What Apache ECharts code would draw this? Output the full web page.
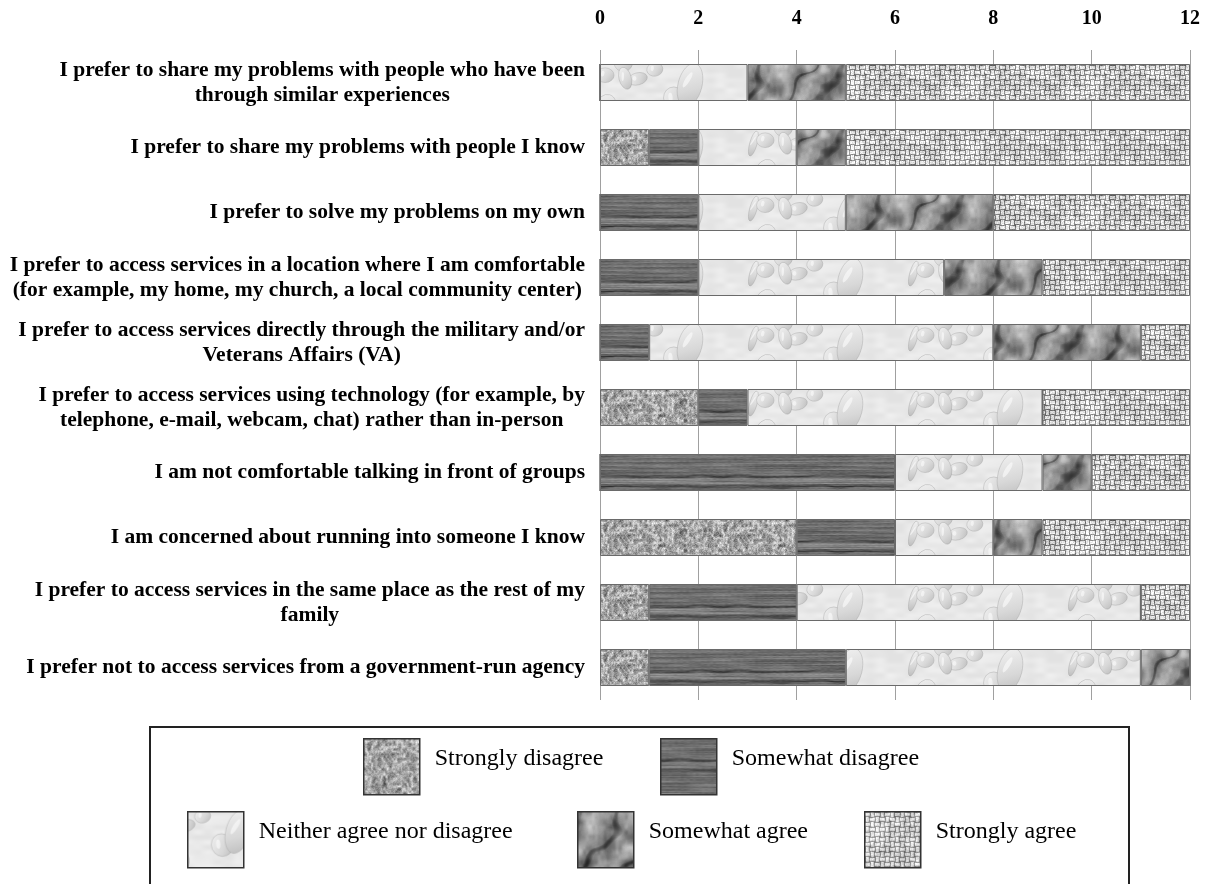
<!DOCTYPE html>
<html><head><meta charset="utf-8">
<script src="https://cdn.jsdelivr.net/npm/echarts@6/dist/echarts.min.js"></script>
<style>html,body{margin:0;padding:0;background:#fff}#c{width:1209px;height:884px}</style>
</head><body><div id="c"></div>
<script>
// ---------------- data ----------------
const categories = [
  'I prefer to share my problems with people who have been\nthrough similar experiences',
  'I prefer to share my problems with people I know',
  'I prefer to solve my problems on my own',
  'I prefer to access services in a location where I am comfortable\n(for example, my home, my church, a local community center)',
  'I prefer to access services directly through the military and/or\nVeterans Affairs (VA)',
  'I prefer to access services using technology (for example, by\ntelephone, e-mail, webcam, chat) rather than in-person',
  'I am not comfortable talking in front of groups',
  'I am concerned about running into someone I know',
  'I prefer to access services in the same place as the rest of my\nfamily',
  'I prefer not to access services from a government-run agency'
];
const seriesNames = ['Strongly disagree', 'Somewhat disagree', 'Neither agree nor disagree', 'Somewhat agree', 'Strongly agree'];
const stronglyDisagree = [0, 1, 0, 0, 0, 2, 0, 4, 1, 1];
const somewhatDisagree = [0, 1, 2, 2, 1, 1, 6, 2, 3, 4];
const neitherAgree     = [3, 2, 3, 5, 7, 6, 3, 2, 7, 6];
const somewhatAgree    = [2, 1, 3, 2, 3, 0, 1, 1, 0, 1];
const stronglyAgree    = [7, 7, 4, 3, 1, 3, 2, 3, 1, 0];
const xMin = 0, xMax = 12, xStep = 2;

// ---------------- textures (styling only, seeded) ----------------
function rng(seed){return function(){seed|=0;seed=seed+0x6D2B79F5|0;let t=Math.imul(seed^seed>>>15,1|seed);t=t+Math.imul(t^t>>>7,61|t)^t;return((t^t>>>14)>>>0)/4294967296;};}
function mk(w,h){const c=document.createElement('canvas');c.width=w;c.height=h;return c;}
function vnoise(w,h,gx,gy,seed){
  const r=rng(seed);const grid=new Float32Array(gx*gy);for(let i=0;i<gx*gy;i++)grid[i]=r();
  const out=new Float32Array(w*h);const cx=w/gx,cy=h/gy;
  for(let y=0;y<h;y++)for(let x=0;x<w;x++){
    const fx=x/cx,fy=y/cy,x0=Math.floor(fx),y0=Math.floor(fy);
    const tx=fx-x0,ty=fy-y0,sx=tx*tx*(3-2*tx),sy=ty*ty*(3-2*ty);
    const X0=x0%gx,X1=(x0+1)%gx,Y0=y0%gy,Y1=(y0+1)%gy;
    const a=grid[Y0*gx+X0],b=grid[Y0*gx+X1],c=grid[Y1*gx+X0],d=grid[Y1*gx+X1];
    const top=a+(b-a)*sx,bot=c+(d-c)*sx;out[y*w+x]=top+(bot-top)*sy;
  }
  return out;
}
function paint(w,h,fn){
  const c=mk(w,h),g=c.getContext('2d'),img=g.createImageData(w,h);
  for(let y=0;y<h;y++)for(let x=0;x<w;x++){let v=Math.max(0,Math.min(255,fn(x,y)));const i=(y*w+x)*4;img.data[i]=img.data[i+1]=img.data[i+2]=v;img.data[i+3]=255;}
  g.putImageData(img,0,0);return c;
}
const W=120,H=65;
function granite(){
  const a=vnoise(W,H,60,26,3),b=vnoise(W,H,24,13,5),c=vnoise(W,H,120,65,7);
  return paint(W,H,(x,y)=>{const i=y*W+x;const rid=1-Math.abs(2*b[i]-1);return 162+(a[i]-0.5)*80+(rid-0.6)*75+(c[i]-0.5)*45;});
}
function wood(){
  const w=240,a=vnoise(w,H,4,65,11),b=vnoise(w,H,12,13,13),c=vnoise(w,H,80,65,17);
  return paint(w,H,(x,y)=>{const i=y*w+x;const yr=(y+1)%H;let v=112+(a[i]-0.5)*40+(b[i]-0.5)*18+(c[i]-0.5)*14;
    const d1=Math.abs(yr-21.5+(b[i]-0.5)*3),d2=Math.abs(yr-32+(b[i]-0.5)*3);
    if(d1<2.2)v-=45*(1-d1/2.2);if(d2<2.2)v-=45*(1-d2/2.2);if(yr>=24&&yr<=29)v+=12;return v;});
}
function drops(){
  const w=160,c=mk(w,H),g=c.getContext('2d'),r=rng(23);
  const n=vnoise(w,H,16,13,29);
  const base=paint(w,H,(x,y)=>232+(n[y*w+x]-0.5)*14);g.drawImage(base,0,0);
  const list=[];
  for(let k=0;k<12;k++){list.push({x:r()*w,y:r()*H,rx:3+r()*8,ry:4+r()*9,rot:(r()-0.5)*0.8});}
  list.push({x:50,y:20,rx:12,ry:22,rot:0.25});list.push({x:125,y:45,rx:11,ry:16,rot:0.3});
  for(const d of list){for(const ox of [-w,0,w])for(const oy of [-H,0,H]){
    g.save();g.translate(d.x+ox,d.y+oy);g.rotate(d.rot);
    const gr=g.createLinearGradient(-d.rx,-d.ry,d.rx,d.ry);gr.addColorStop(0,'#f2f2f2');gr.addColorStop(0.6,'#d8d8d8');gr.addColorStop(1,'#bcbcbc');
    g.beginPath();g.ellipse(0,0,d.rx,d.ry,0,0,Math.PI*2);g.fillStyle=gr;g.fill();
    g.strokeStyle='rgba(150,150,150,0.4)';g.lineWidth=0.8;g.stroke();
    g.beginPath();g.ellipse(-d.rx*0.3,-d.ry*0.2,d.rx*0.2,d.ry*0.4,0.3,0,Math.PI*2);g.fillStyle='rgba(255,255,255,0.55)';g.fill();
    g.restore();}}
  return c;
}
function marble(){
  const a=vnoise(W,H,4,3,31),b=vnoise(W,H,8,5,37),c=vnoise(W,H,12,5,41),d=vnoise(W,H,40,13,43),e=vnoise(W,H,20,13,53);
  return paint(W,H,(x,y)=>{const i=y*W+x;const ph=2*Math.PI*(3*x/W+1*y/H)+5*a[i]+2*b[i];
    const s=Math.sin(ph);
    let v=150+(c[i]-0.5)*80+s*22+(d[i]-0.5)*22;
    if(s<-0.8)v-=40*((-s-0.8)/0.2);
    const facet=Math.floor(e[i]*5)/5;v+=(facet-0.5)*25;
    return v;});
}
function weave(){
  const n=vnoise(W,H,24,13,43),m=vnoise(W,H,120,65,47);
  return paint(W,H,(x,y)=>{const i=y*W+x;const cx=Math.floor(x/5),cy=Math.floor(y/5),lx=x%5,ly=y%5;
    let light;if((cx+cy)%2===0)light=(ly>=1&&ly<=3);else light=(lx>=1&&lx<=3);
    let v=light?226:128;v+=(n[i]-0.5)*50+(m[i]-0.5)*40;return v;});
}
const patterns=[granite(),wood(),drops(),marble(),weave()].map(c=>({image:c,repeat:'repeat'}));

// ---------------- chart ----------------
const chart=echarts.init(document.getElementById('c'),null,{renderer:'canvas'});
const serif='"Liberation Serif","Times New Roman",serif';
const values=[stronglyDisagree,somewhatDisagree,neitherAgree,somewhatAgree,stronglyAgree];
const legendPos=[[363,738],[660,738],[187,811],[577,811],[864,811]];
const option={
  animation:false,
  backgroundColor:'#fff',
  grid:{left:600,right:19,top:50,height:650,containLabel:false},
  xAxis:{type:'value',position:'top',min:xMin,max:xMax,interval:xStep,
    axisLine:{show:false},axisTick:{show:false},
    axisLabel:{color:'#000',fontFamily:serif,fontWeight:'bold',fontSize:20,margin:21},
    splitLine:{show:true,lineStyle:{color:'#a0a0a0',width:1}}},
  yAxis:{type:'category',inverse:true,data:categories,
    axisLine:{show:false},axisTick:{show:false},splitLine:{show:false},
    axisLabel:{margin:15,color:'#000',fontFamily:serif,fontWeight:'bold',fontSize:21.5,lineHeight:25,
      formatter:v=>v.split('\n').map(l=>'{c|'+l+'}').join('\n'),
      rich:{c:{align:'center',color:'#000',fontFamily:serif,fontWeight:'bold',fontSize:21.5,lineHeight:25}}}},
  legend:seriesNames.map((n,i)=>({data:[n],left:legendPos[i][0],top:legendPos[i][1],padding:0,
    icon:'rect',itemWidth:56,itemHeight:56,selectedMode:false,
    itemStyle:{borderColor:'#333',borderWidth:1.5},
    formatter:s=>'{t|'+s+'}\n{s| }',
    textStyle:{color:'#000',fontFamily:serif,fontSize:24,
      rich:{t:{color:'#000',fontFamily:serif,fontSize:24,lineHeight:28,padding:[0,0,0,10]},s:{fontSize:1,lineHeight:16}}}})),
  graphic:[{type:'rect',shape:{x:150,y:727,width:979,height:170},style:{fill:'none',stroke:'#222',lineWidth:2},z:-1}],
  series:seriesNames.map((n,i)=>({name:n,type:'bar',stack:'total',barWidth:37,data:values[i],
    itemStyle:{color:patterns[i],borderColor:'#6a6a6a',borderWidth:1}}))
};
chart.setOption(option);
</script></body></html>
